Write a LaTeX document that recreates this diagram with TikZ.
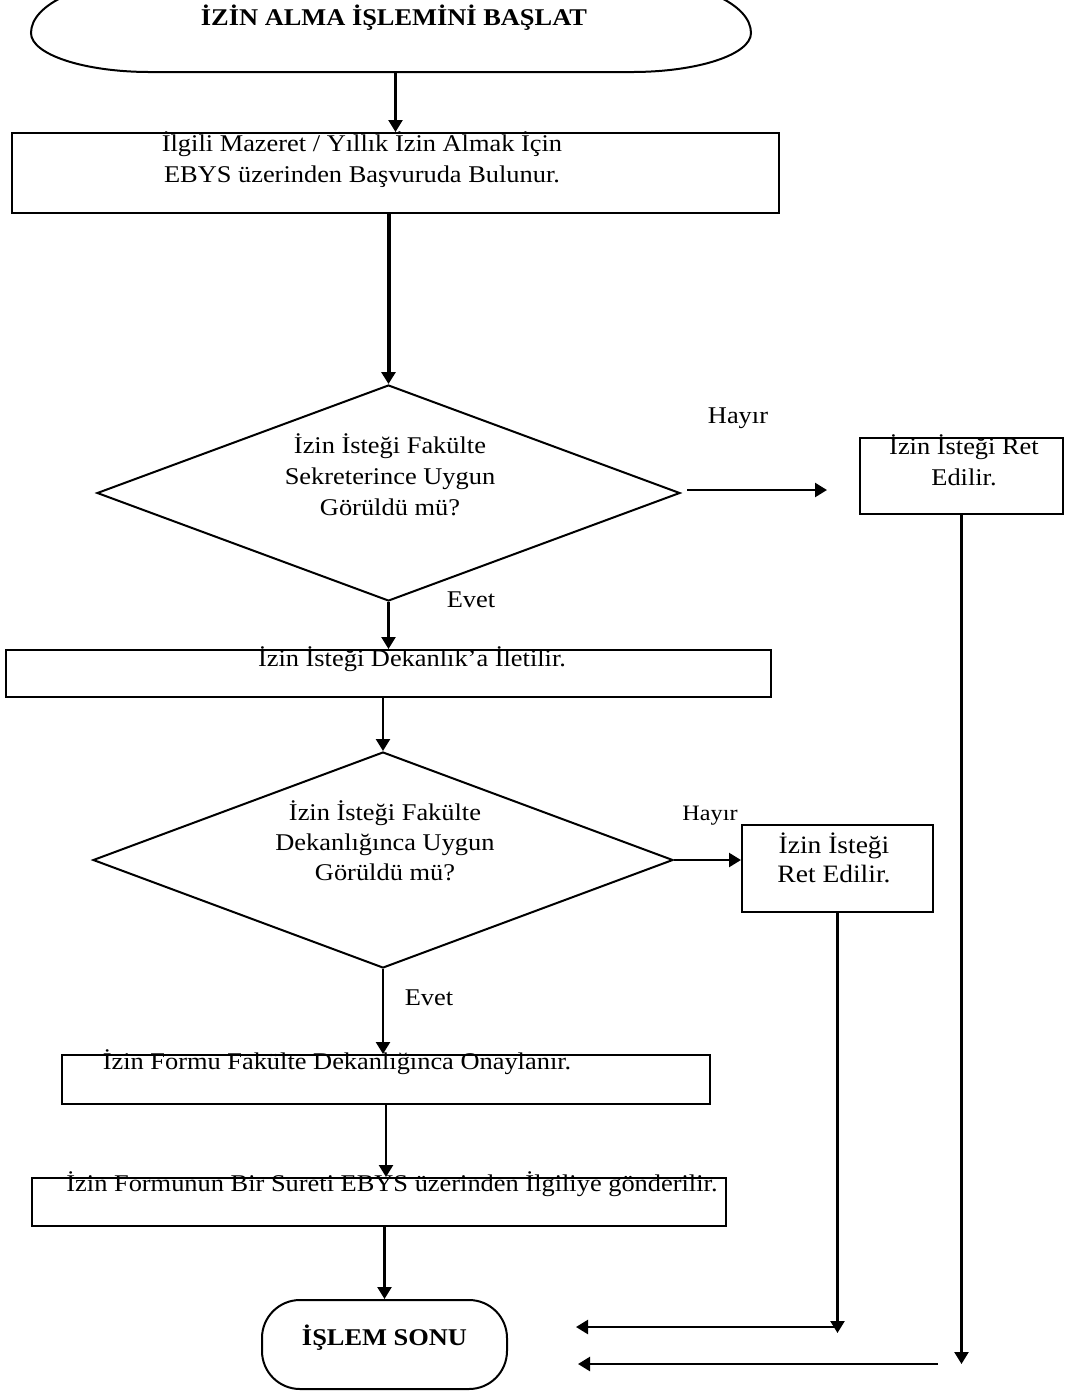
\documentclass[tikz,border=0pt]{standalone}
\usepackage{fontspec}
\setmainfont{Liberation Serif}[FakeStretch=1.1]
\usetikzlibrary{shapes.geometric,arrows.meta}

\begin{document}
\begin{tikzpicture}[x=0.5pt, y=-0.5pt,
    box/.style={draw, line width=1pt, inner sep=0pt},
    decision/.style={draw, diamond, line width=1pt, inner sep=0pt},
    txt/.style={font=\fontsize{12}{15.5}\selectfont, align=center, inner sep=0pt, anchor=base},
    flow/.style={line width=1.2pt, -{Triangle[length=6pt,width=7pt]}}]

    % Page frame
    \useasboundingbox (0,0) rectangle (1076,1394);
    \clip (0,0) rectangle (1076,1394);

    % Start terminal
    \node (start) [minimum width=360pt, minimum height=39pt, inner sep=0pt] at (391,33) {};
    \draw[line width=1pt] (31,33) arc[start angle=180, end angle=90, x radius=119, y radius=39]
        -- (632,72) arc[start angle=90, end angle=0, x radius=119, y radius=39]
        arc[start angle=0, end angle=-90, x radius=119, y radius=53]
        -- (150,-20) arc[start angle=-90, end angle=-180, x radius=119, y radius=53] -- cycle;
    \node[txt, font=\fontsize{12}{15.5}\selectfont\bfseries] (starttext) at (394,25) {İZİN ALMA İŞLEMİNİ BAŞLAT};

    % Process boxes
    \node[box, minimum width=383.5pt, minimum height=40pt] (apply) at (395.5,173) {};
    \node[box, minimum width=382.5pt, minimum height=23.5pt] (forward) at (388.5,673.5) {};
    \node[box, minimum width=324pt, minimum height=24.5pt] (approve) at (386,1079.5) {};
    \node[box, minimum width=347pt, minimum height=24pt] (send) at (379,1202) {};

    % Decisions
    \node[decision, minimum width=291.5pt, minimum height=108pt] (secretary) at (388.5,493) {};
    \node[decision, minimum width=290pt, minimum height=108pt] (dean) at (383,860) {};

    % Rejections
    \node[box, minimum width=101.5pt, minimum height=38pt] (rejectA) at (961.5,476) {};
    \node[box, minimum width=95.5pt, minimum height=43.5pt] (rejectB) at (837.5,868.5) {};

    % End terminal
    \node[draw, line width=1pt, rounded corners=19pt, minimum width=122.5pt, minimum height=44.5pt] (finish) at (384.5,1344.5) {};

    % Texts (base = last line)
    \node[txt] (applytext) at (362,182) {İlgili Mazeret / Yıllık İzin Almak İçin\\EBYS üzerinden Başvuruda Bulunur.};
    \node[txt] (secretarytext) at (390,515) {İzin İsteği Fakülte\\Sekreterince Uygun\\Görüldü mü?};
    \node[txt] (rejectAtext) at (964,485) {İzin İsteği Ret\\Edilir.};
    \node[txt] (forwardtext) at (412,666) {İzin İsteği Dekanlık’a İletilir.};
    \node[txt, font=\fontsize{12}{15}\selectfont] (deantext) at (385,880) {İzin İsteği Fakülte\\Dekanlığınca Uygun\\Görüldü mü?};
    \node[txt, font=\fontsize{12.5}{14.5}\selectfont] (rejectBtext) at (834,882) {İzin İsteği\\Ret Edilir.};
    \node[txt] (approvetext) at (337,1069) {İzin Formu Fakülte Dekanlığınca Onaylanır.};
    \node[txt] (sendtext) at (392,1191) {İzin Formunun Bir Sureti EBYS üzerinden İlgiliye gönderilir.};
    \node[txt, font=\fontsize{12}{15.5}\selectfont\bfseries] (finishtext) at (384.5,1345) {İŞLEM SONU};

    % Branch labels
    \node[txt] (noA) at (738,423) {Hayır};
    \node[txt] (yesA) at (471,607) {Evet};
    \node[txt, font=\fontsize{11}{13}\selectfont] (noB) at (710,820) {Hayır};
    \node[txt] (yesB) at (429,1005) {Evet};

    % Free ends of the return lines
    \coordinate (rejectAend) at (961.5,1364);
    \coordinate (rejectAback) at (938,1364);
    \coordinate (rejectBend) at (837.5,1333);
    \coordinate (rejectBback) at (837.5,1327);

    % Main flow
    \draw[flow] (start.south -| apply.north) -- (apply.north);
    \draw[flow, line width=2pt] (apply.south -| secretary.north) -- (secretary.north);
    \draw[flow] (secretary.south) -- (forward.north);
    \draw[flow] (forward.south -| dean.north) -- (dean.north);
    \draw[flow] (dean.south) -- (dean.south |- approve.north);
    \draw[flow] (approve.south) -- (approve.south |- send.north);
    \draw[flow] (send.south -| finish.north) -- (finish.north);

    % Rejection branches
    \draw[flow, shorten <=3pt, shorten >=16pt] ([yshift=1.5pt]secretary.east) -- ([yshift=1.5pt]secretary.east -| rejectA.west);
    \draw[flow] (dean.east) -- (dean.east -| rejectB.west);
    \draw[flow] (rejectA.south) -- (rejectAend);
    \draw[flow] (rejectB.south) -- (rejectBend);
    \draw[flow, shorten >=35pt] (rejectAback) -- (rejectAback -| finish.east);
    \draw[flow, shorten >=34pt] (rejectBback) -- (rejectBback -| finish.east);

\end{tikzpicture}
\end{document}
